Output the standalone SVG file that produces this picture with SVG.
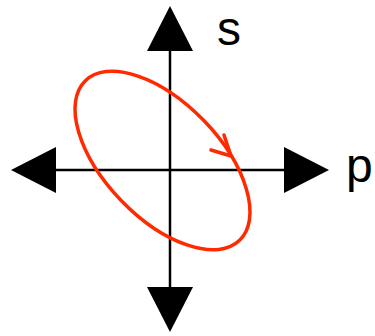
<svg xmlns="http://www.w3.org/2000/svg" width="375" height="336" viewBox="0 0 375 336">
<style>
.axis{stroke:#000;stroke-width:2.5;fill:none}
.head{fill:#000}
.orbit{stroke:#ff2a00;stroke-width:3.5;fill:none;stroke-linecap:round;stroke-linejoin:round}
.lbl{font-family:"Liberation Sans",Arial,sans-serif;font-size:48px;fill:#000}
</style>
<rect width="375" height="336" fill="#fff"/>
<g id="connectors">
<line class="axis" x1="170" y1="50" x2="170" y2="288"/>
<line class="axis" x1="55" y1="170" x2="285" y2="170"/>
<polygon class="head" points="170,6 147,51 193,51"/>
<polygon class="head" points="170,332 147,287 193,287"/>
<polygon class="head" points="11,170 56,147 56,193"/>
<polygon class="head" points="329,170 284,147 284,193"/>
</g>
<g id="orbit">
<ellipse class="orbit" cx="162.5" cy="160.5" rx="111" ry="57.5" transform="rotate(46 162.5 160.5)"/>
<path class="orbit" d="M211,150 L231,156 L224,135"/>
</g>
<g id="label-s"><text class="lbl" x="217" y="45">s</text></g>
<g id="label-p"><text class="lbl" x="346" y="182">p</text></g>
</svg>
